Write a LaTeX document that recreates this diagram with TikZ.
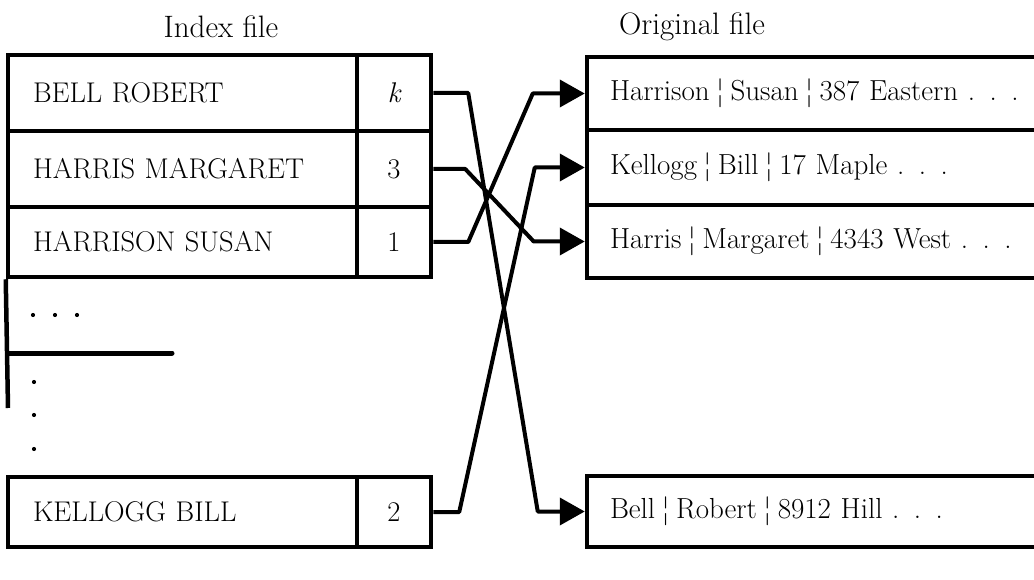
\documentclass[tikz,border=0pt]{standalone}
\usetikzlibrary{arrows.meta}

\newcommand\titlefont{\fontsize{31pt}{36pt}\selectfont}
\newcommand\keyfont{\fontsize{28.5pt}{33pt}\selectfont}
\newcommand\recfont{\fontsize{29pt}{34pt}\selectfont}
\newcommand\fsep{\hspace{0.22em}¦\hspace{0.22em}}

\begin{document}
\begin{tikzpicture}[x=1pt, y=-1pt,
  rule/.style={line width=4.5pt},
  cell/.style={draw, rule, inner sep=0pt, minimum height=#1},
  keycell/.style={cell=#1, text width=299pt, inner xsep=25pt, align=left, font=\keyfont},
  ptrcell/.style={cell=#1, minimum width=74pt, font=\keyfont},
  reccell/.style={cell=#1, text width=436pt, inner xsep=23pt, align=left, font=\recfont},
  link/.style={line width=4pt, line join=round, line cap=butt},
  pointer/.style={link, -{Triangle[length=25pt, width=27pt]}},
  dotmark/.style={fill=black},
]
\useasboundingbox (0,0) rectangle (1034,580);

% column titles
\node[font=\titlefont] (tidx) at (221,27) {Index file};
\node[font=\titlefont] (torig) at (692,27) {Original file};

% index file: key and pointer columns
\node[keycell=76pt] (n1) at (182.5,93) {BELL ROBERT};
\node[ptrcell=76pt] (p1) at (394,93) {\itshape k};
\node[keycell=76pt] (n2) at (182.5,169) {HARRIS MARGARET};
\node[ptrcell=76pt] (p2) at (394,169) {3};
\node[keycell=70pt] (n3) at (182.5,242) {HARRISON SUSAN};
\node[ptrcell=70pt] (p3) at (394,242) {1};
\node[keycell=70pt] (n4) at (182.5,512) {KELLOGG BILL};
\node[ptrcell=70pt] (p4) at (394,512) {2};

% open part of the index between the listed entries
\coordinate (tail) at (8,408);
\coordinate (stubL) at (8,353);
\coordinate (stubR) at (172,353);
\draw[rule] (n3.south west) -- (tail);
\draw[line width=5pt, line cap=round] (stubL) -- (stubR);
\foreach \x in {33,55,77} \fill[dotmark] (\x,315) circle (2.1pt);
\foreach \y in {382,415,449} \fill[dotmark] (34,\y) circle (2.1pt);

% original file records
\node[reccell=73pt] (r1) at (828,93.5) {Harrison\fsep Susan\fsep 387 Eastern . . .};
\node[reccell=75pt] (r2) at (828,167.5) {Kellogg\fsep Bill\fsep 17 Maple . . .};
\node[reccell=73pt] (r3) at (828,241.5) {Harris\fsep Margaret\fsep 4343 West . . .};
\node[reccell=71pt] (r4) at (828,511.5) {Bell\fsep Robert\fsep 8912 Hill . . .};

% pointers from the index into the original file
\draw[pointer] (p1.east) -- ++(35,0) -- ([xshift=-47pt]r4.west) -- (r4.west);
\draw[pointer] (p2.east) -- ++(32,0) -- ([xshift=-51pt]r3.west) -- (r3.west);
\draw[pointer] (p3.east) -- ++(35,0) -- ([xshift=-52pt]r1.west) -- (r1.west);
\draw[pointer] (p4.east) -- ++(26,0) -- ([xshift=-50pt]r2.west) -- (r2.west);
\end{tikzpicture}
\end{document}
